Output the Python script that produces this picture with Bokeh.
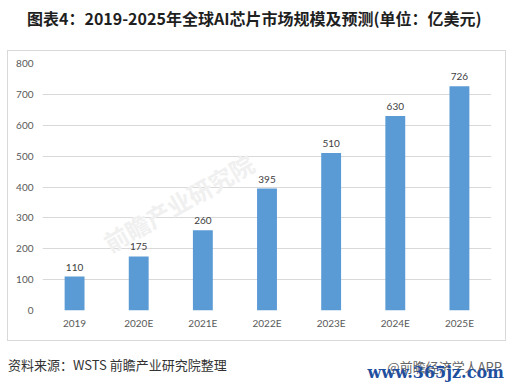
from bokeh.plotting import figure
from bokeh.models import Range1d, Label, ColumnDataSource, Div
from bokeh.layouts import column
from bokeh.core.properties import value
from bokeh.embed import file_html
from bokeh.resources import INLINE

years = ["2019", "2020E", "2021E", "2022E", "2023E", "2024E", "2025E"]
market = [110, 175, 260, 395, 510, 630, 726]
y_ticks = [0, 100, 200, 300, 400, 500, 600, 700, 800]
title_text = "图表4：2019-2025年全球AI芯片市场规模及预测(单位：亿美元)"
source_text = "资料来源：WSTS 前瞻产业研究院整理"
credit_text = "@前瞻经济学人APP"
site_text = "www.365jz.com"
watermark_text = "前瞻产业研究院"

src = ColumnDataSource(dict(x=years, y=market, lab=[str(v) for v in market]))

title_div = Div(
    text=f'<div style="position:relative;width:510px;height:51px;">'
         f'<span style="position:absolute;left:27px;top:9px;font-family:\'Noto Sans CJK SC\';'
         f'font-weight:bold;font-size:16px;line-height:18px;color:#1f1f1f;white-space:nowrap;">{title_text}</span></div>',
    width=510, height=51, margin=0)

p = figure(x_range=years, y_range=Range1d(0, 800), width=497, height=289,
           output_backend="svg", toolbar_location=None,
           min_border_left=34, min_border_right=14, min_border_top=12, min_border_bottom=30)
p.margin = (0, 0, 0, 8)
p.styles = {"outline": "1px solid #d9d9d9"}
p.outline_line_color = None
p.background_fill_color = "white"
p.border_fill_color = "white"

p.add_layout(Label(x=136, y=108, x_units="screen", y_units="screen", text=watermark_text,
                   angle=0.52, text_font="Noto Sans CJK SC", text_font_style="bold",
                   text_font_size="24px", text_color="#f0f0f0", text_align="center",
                   text_baseline="middle"))

p.vbar(x="x", top="y", width=0.31, source=src, color="#5b9bd5", line_color=None)
p.text(x="x", y="y", text="lab", source=src, text_align="center", text_baseline="bottom",
       y_offset=-6, text_font=value("Lato"), text_font_size="10px", text_color="#404040")

p.ygrid.grid_line_color = "#d9d9d9"
p.xgrid.grid_line_color = None
p.yaxis.ticker = y_ticks
for ax in (p.xaxis[0], p.yaxis[0]):
    ax.axis_line_color = None
    ax.major_tick_line_color = None
    ax.minor_tick_line_color = None
    ax.major_label_text_font = "Lato"
    ax.major_label_text_font_size = "10px"
    ax.major_label_text_color = "#595959"
p.yaxis.major_label_standoff = 3
p.xaxis.major_label_standoff = 0

footer_div = Div(
    text=f'<div style="position:relative;width:510px;height:46px;">'
         f'<span style="position:absolute;left:8px;top:18px;font-family:\'Noto Sans CJK SC\';'
         f'font-size:13px;line-height:14px;color:#333333;white-space:nowrap;">{source_text}</span>'
         f'<span style="position:absolute;right:8px;top:20px;font-family:\'Noto Sans CJK SC\';'
         f'font-size:13px;line-height:14px;color:#666666;white-space:nowrap;">{credit_text}</span>'
         f'<span style="position:absolute;right:6px;top:24px;font-family:\'DejaVu Serif\';font-weight:bold;'
         f'font-size:16px;line-height:18px;color:#1f4f9e;white-space:nowrap;">{site_text}</span></div>',
    width=510, height=46, margin=0)

layout = column(title_div, p, footer_div, spacing=0)
open("out.html", "w").write(file_html(layout, INLINE))
